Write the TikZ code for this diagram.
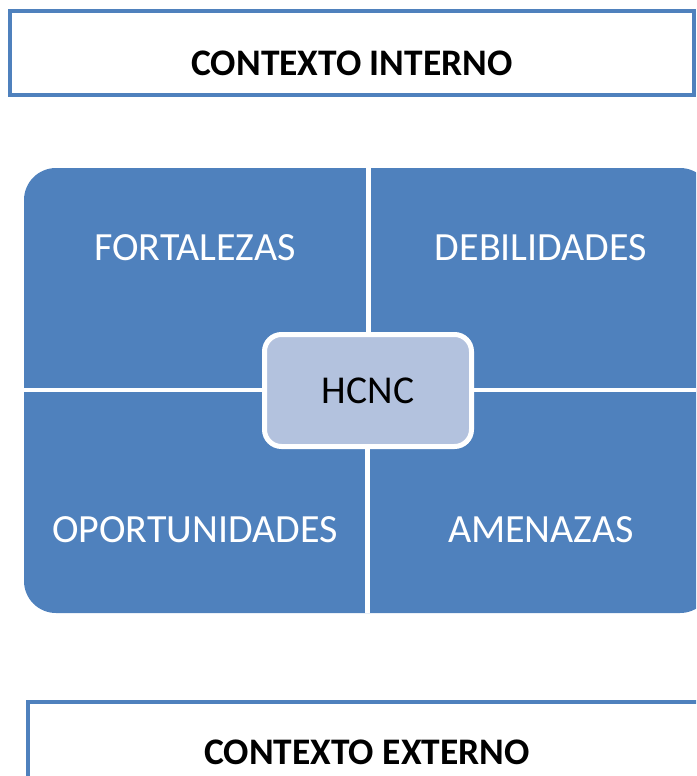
\documentclass[tikz,border=0pt]{standalone}
\usepackage{fontspec}
\setmainfont{Carlito}
\definecolor{mblue}{HTML}{4F81BD}
\definecolor{hubfill}{HTML}{B3C2DE}
\tikzset{
  framebox/.style={draw=mblue, line width=4pt, fill=white, inner sep=0pt},
  titletext/.style={font=\fontsize{37.5}{44}\selectfont\bfseries, text=black, inner sep=0pt},
  quadlabel/.style={font=\fontsize{40}{46}\selectfont, text=white, inner sep=0pt},
  hub/.style={draw=white, line width=5pt, fill=hubfill, rounded corners=17pt,
    minimum width=207pt, minimum height=112pt, inner sep=0pt,
    font=\fontsize{39.5}{46}\selectfont, text=black}
}
\begin{document}
\begin{tikzpicture}[x=1pt,y=-1pt]
\useasboundingbox (0,0) rectangle (696,776);
\clip (0,0) rectangle (696,776);
% top frame
\node[framebox, minimum width=684pt, minimum height=84pt] (ibox) at (352,53) {};
\node[titletext] (itext) at (352,63) {CONTEXTO INTERNO};
% matrix
\fill[mblue, rounded corners=32pt] (24,168) rectangle (712,613);
\fill[white] (366,168) rectangle (371,389);
\fill[white] (365,389) rectangle (370,613);
\fill[white] (24,388) rectangle (712,392);
\node[quadlabel] (fort) at (195,248) {FORTALEZAS};
\node[quadlabel] (debi) at (541,248) {DEBILIDADES};
\node[quadlabel] (opor) at (195,530) {OPORTUNIDADES};
\node[quadlabel] (amen) at (541,530) {AMENAZAS};
\node[hub] (hcnc) at (368,390.5) {HCNC};
% bottom frame
\node[framebox, minimum width=678pt, minimum height=160pt] (ebox) at (367,782) {};
\node[titletext] (etext) at (367,752) {CONTEXTO EXTERNO};
\end{tikzpicture}
\end{document}
